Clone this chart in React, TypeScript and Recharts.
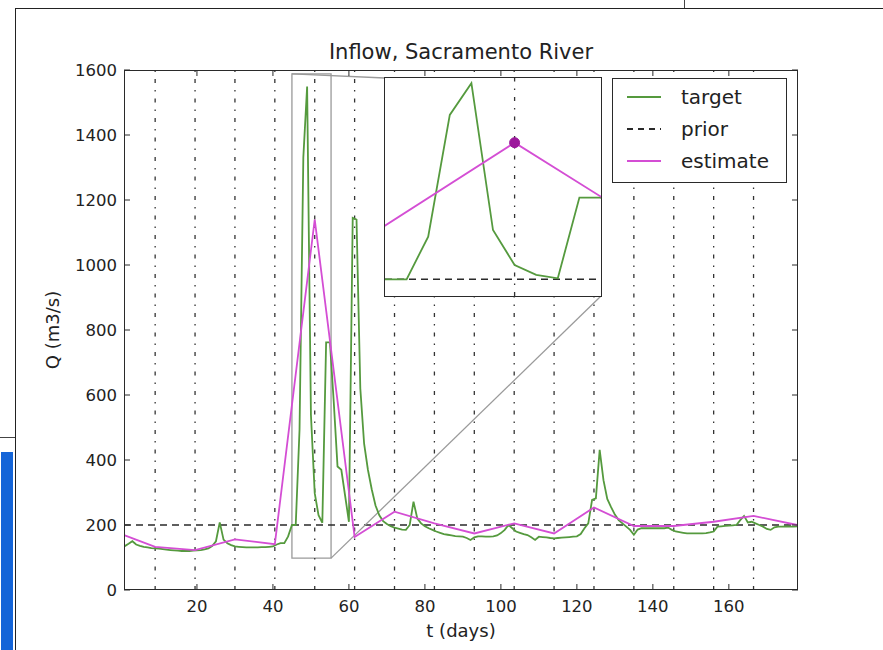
import { LineChart, Line, XAxis, YAxis, ReferenceLine, ReferenceArea, ReferenceDot } from 'recharts';

// observed inflow, one value per day starting at day 1
const target = [
  135, 142, 150, 140, 136, 133, 131, 129, 128, 127,
  126, 124, 123, 122, 121, 120, 120, 120, 121, 122,
  123, 125, 128, 135, 150, 208, 155, 144, 138, 134,
  133, 132, 131, 131, 131, 131, 132, 132, 133, 134,
  140, 144, 144, 165, 200, 200, 493, 1331, 1549, 539,
  298, 230, 207, 762, 762, 580, 380, 370, 290, 210,
  1145, 1140, 620, 450, 370, 310, 260, 230, 212, 203,
  196, 192, 189, 186, 185, 200, 272, 220, 205, 196,
  190, 185, 180, 176, 172, 170, 168, 166, 165, 164,
  160, 154, 162, 165, 165, 164, 164, 165, 168, 175,
  185, 200, 190, 180, 176, 172, 169, 162, 154, 164,
  163, 162, 160, 159, 160, 161, 162, 163, 164, 165,
  172, 190, 205, 277, 282, 431, 338, 280, 255, 232,
  215, 205, 195, 185, 170, 186, 190, 190, 190, 190,
  190, 190, 190, 192, 185, 180, 178, 176, 174, 174,
  174, 174, 174, 175, 177, 180, 195, 196, 197, 198,
  199, 200, 215, 228, 208, 210, 205, 200, 195, 188,
  185, 193, 195, 195, 196, 195, 195, 196,
];

// estimate nodes
const estDays = [1, 9, 19.5, 30, 40.5, 51, 61.5, 72, 82.5, 93, 103.5, 114, 124.5, 135, 145.5, 156, 166.5, 178];
const estQ = [168, 133, 123, 156, 141, 1140, 163, 241, 205, 174, 205, 174, 254, 197, 197, 210, 228, 200];

// dash-dot verticals
const gridDays = [9, 19.5, 30, 40.5, 51, 61.5, 72, 82.5, 93, 103.5, 114, 124.5, 135, 145.5, 156, 166.5];

const xTicks = [20, 40, 60, 80, 100, 120, 140, 160];
const yTicks = [0, 200, 400, 600, 800, 1000, 1200, 1400, 1600];
const prior = 200;
const zoomDays = [45, 55.3];
const zoomQ = [98, 1588];
const markDay = 51;

const targetData = target.map((q, i) => ({ day: i + 1, q }));
const estData = estDays.map((d, i) => ({ day: d, q: estQ[i] }));

const FONT = '"DejaVu Sans", sans-serif';
const GREEN = '#559a3e';
const MAGENTA = '#d44ed4';
const DARK = '#2a2a2a';

const PLOT = { left: 124, right: 798, top: 70, bottom: 590 };
const X_DOMAIN = [0.8, 178.2];
const Y_DOMAIN = [0, 1600];
const INSET = { left: 385, top: 78, width: 216, height: 218 };

const dayAt = (px: number) =>
  X_DOMAIN[0] + ((px - PLOT.left) / (PLOT.right - PLOT.left)) * (X_DOMAIN[1] - X_DOMAIN[0]);
const qAt = (py: number) =>
  Y_DOMAIN[0] + ((PLOT.bottom - py) / (PLOT.bottom - PLOT.top)) * (Y_DOMAIN[1] - Y_DOMAIN[0]);

const XTick = (props: any) => {
  const { x, payload } = props;
  return (
    <g>
      <line x1={x} x2={x} y1={PLOT.bottom} y2={PLOT.bottom - 6} stroke={DARK} />
      <line x1={x} x2={x} y1={PLOT.top} y2={PLOT.top + 6} stroke={DARK} />
      <text x={x} y={PLOT.bottom + 22} textAnchor="middle" fontSize={16.5} fill="#222" fontFamily={FONT}>
        {payload.value}
      </text>
    </g>
  );
};

const YTick = (props: any) => {
  const { y, payload } = props;
  return (
    <g>
      <line x1={PLOT.left} x2={PLOT.left + 6} y1={y} y2={y} stroke={DARK} />
      <line x1={PLOT.right} x2={PLOT.right - 6} y1={y} y2={y} stroke={DARK} />
      <text x={PLOT.left - 7} y={y + 6} textAnchor="end" fontSize={16.5} fill="#222" fontFamily={FONT}>
        {payload.value}
      </text>
    </g>
  );
};

const legendItems = [
  { name: 'target', color: GREEN, dash: undefined },
  { name: 'prior', color: DARK, dash: '6 5' },
  { name: 'estimate', color: MAGENTA, dash: undefined },
];

const LegendBox = () => (
  <div
    style={{
      position: 'absolute',
      left: 612,
      top: 78,
      width: 175,
      height: 105,
      boxSizing: 'border-box',
      border: `1.5px solid ${DARK}`,
      background: '#fff',
      paddingTop: 2,
      fontFamily: FONT,
    }}
  >
    {legendItems.map((it) => (
      <div key={it.name} style={{ height: 32, display: 'flex', alignItems: 'center' }}>
        <svg width={34} height={10} style={{ marginLeft: 14 }}>
          <line x1={0} x2={34} y1={5} y2={5} stroke={it.color} strokeWidth={2} strokeDasharray={it.dash} />
        </svg>
        <span style={{ marginLeft: 20, fontSize: 20, color: '#222' }}>{it.name}</span>
      </div>
    ))}
  </div>
);

export default function App() {
  const markQ = estQ[estDays.indexOf(markDay)];
  return (
    <div style={{ position: 'absolute', left: 0, top: 0, width: 883, height: 650, background: '#fff', fontFamily: FONT, overflow: 'hidden' }}>
      {/* page scan edges */}
      <div style={{ position: 'absolute', left: 15, top: 8, width: 868, height: 0, borderTop: '1.5px solid #222' }} />
      <div style={{ position: 'absolute', left: 15, top: 8, width: 0, height: 642, borderLeft: '1.5px solid #222' }} />
      <div style={{ position: 'absolute', left: 684, top: 0, width: 0, height: 8, borderLeft: '1px solid #444' }} />
      <div style={{ position: 'absolute', left: 0, top: 437, width: 15, height: 0, borderTop: '1px solid #444' }} />
      <div style={{ position: 'absolute', left: 1, top: 452, width: 12, height: 198, background: '#1565d8' }} />

      <div style={{ position: 'absolute', left: 0, top: 0 }}>
        <LineChart width={883} height={650} margin={{ top: 70, right: 85, bottom: 30, left: 64 }}>
          <XAxis
            type="number"
            dataKey="day"
            domain={X_DOMAIN}
            ticks={xTicks}
            allowDataOverflow
            axisLine={false}
            tickLine={false}
            tick={<XTick />}
            height={30}
          />
          <YAxis
            type="number"
            domain={Y_DOMAIN}
            ticks={yTicks}
            allowDataOverflow
            axisLine={false}
            tickLine={false}
            tick={<YTick />}
            width={60}
          />
          {gridDays.map((d) => (
            <ReferenceLine key={d} x={d} stroke="#333" strokeWidth={1.3} strokeDasharray="4 7 1.5 7" />
          ))}
          <ReferenceLine y={prior} stroke={DARK} strokeWidth={1.5} strokeDasharray="7 5" />
          <ReferenceArea
            x1={zoomDays[0]}
            x2={zoomDays[1]}
            y1={zoomQ[0]}
            y2={zoomQ[1]}
            fill="none"
            fillOpacity={0}
            stroke="#9a9a9a"
            strokeWidth={1.3}
          />
          <ReferenceLine
            segment={[
              { x: zoomDays[1], y: zoomQ[0] },
              { x: dayAt(INSET.left + INSET.width), y: qAt(INSET.top + INSET.height) },
            ]}
            stroke="#9a9a9a"
            strokeWidth={1.3}
            ifOverflow="visible"
          />
          <ReferenceLine
            segment={[
              { x: zoomDays[0], y: zoomQ[1] },
              { x: dayAt(INSET.left), y: qAt(INSET.top) },
            ]}
            stroke="#9a9a9a"
            strokeWidth={1.3}
            ifOverflow="visible"
          />
          <Line data={targetData} dataKey="q" stroke={GREEN} strokeWidth={1.8} dot={false} isAnimationActive={false} />
          <Line data={estData} dataKey="q" stroke={MAGENTA} strokeWidth={1.8} dot={false} isAnimationActive={false} />
        </LineChart>
      </div>

      {/* plot frame */}
      <div
        style={{
          position: 'absolute',
          left: PLOT.left,
          top: PLOT.top,
          width: PLOT.right - PLOT.left,
          height: PLOT.bottom - PLOT.top,
          boxSizing: 'border-box',
          border: `1.5px solid ${DARK}`,
          pointerEvents: 'none',
        }}
      />

      <LegendBox />

      {/* zoomed inset */}
      <div
        style={{
          position: 'absolute',
          left: INSET.left - 1,
          top: INSET.top - 1,
          width: INSET.width,
          height: INSET.height,
          border: `1.5px solid ${DARK}`,
          background: '#fff',
        }}
      >
        <LineChart width={INSET.width} height={INSET.height} margin={{ top: 0, right: 0, bottom: 0, left: 0 }}>
          <XAxis type="number" dataKey="day" domain={[45, 55]} allowDataOverflow hide />
          <YAxis type="number" domain={[85, 1585]} allowDataOverflow hide />
          {gridDays.map((d) => (
            <ReferenceLine key={d} x={d} stroke="#333" strokeWidth={1.3} strokeDasharray="4 7 1.5 7" />
          ))}
          <ReferenceLine y={prior} stroke={DARK} strokeWidth={1.5} strokeDasharray="7 5" />
          <Line data={targetData} dataKey="q" stroke={GREEN} strokeWidth={1.8} dot={false} isAnimationActive={false} />
          <Line data={estData} dataKey="q" stroke={MAGENTA} strokeWidth={1.8} dot={false} isAnimationActive={false} />
          <ReferenceDot x={markDay} y={markQ} r={5} fill="#9c189c" stroke="#9c189c" />
        </LineChart>
      </div>

      {/* title and axis labels */}
      <div style={{ position: 'absolute', left: 261, width: 400, top: 40, textAlign: 'center', fontSize: 21, color: '#222' }}>
        Inflow, Sacramento River
      </div>
      <div style={{ position: 'absolute', left: 261, width: 400, top: 620, textAlign: 'center', fontSize: 18, color: '#222' }}>
        t (days)
      </div>
      <div
        style={{
          position: 'absolute',
          left: 52,
          top: 330,
          transform: 'translate(-50%, -50%) rotate(-90deg)',
          whiteSpace: 'nowrap',
          fontSize: 18,
          color: '#222',
        }}
      >
        Q (m3/s)
      </div>
    </div>
  );
}
